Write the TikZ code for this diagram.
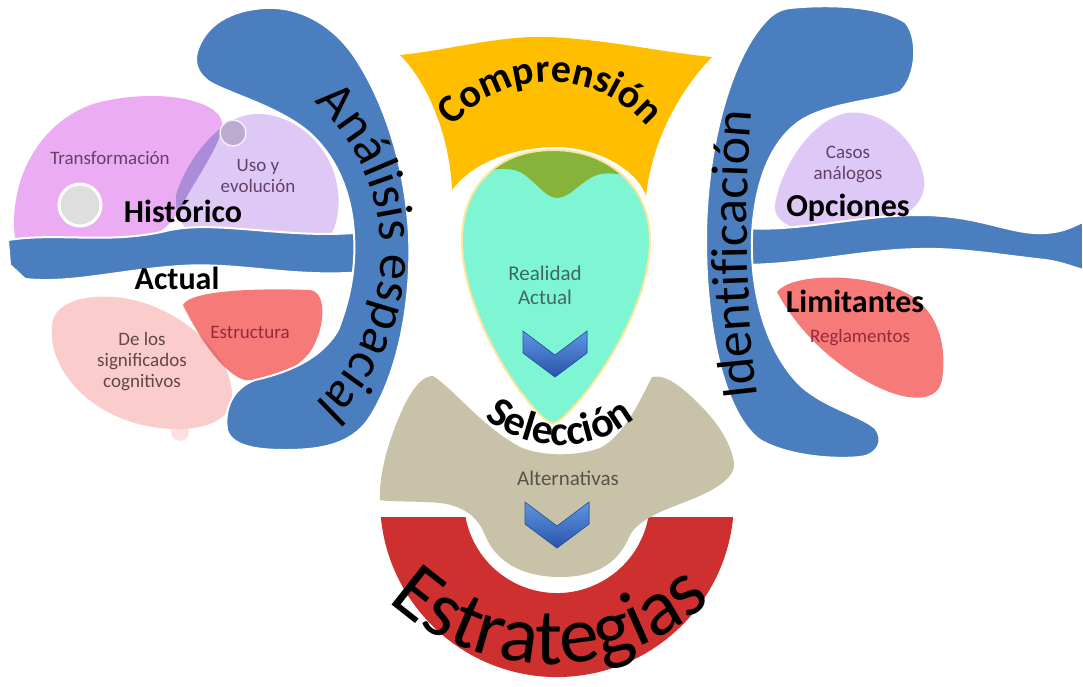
\documentclass[tikz,border=0pt]{standalone}
\usepackage{fontspec}
\setmainfont{Carlito}
\usetikzlibrary{decorations.text}

\definecolor{bandblue}{RGB}{74,126,190}
\definecolor{orchid}{RGB}{236,172,244}
\definecolor{lilac}{RGB}{222,200,246}
\definecolor{lilacdark}{RGB}{172,140,216}
\definecolor{blush}{RGB}{250,204,204}
\definecolor{salmon}{RGB}{246,122,120}
\definecolor{salmondark}{RGB}{230,112,120}
\definecolor{gold}{RGB}{255,190,0}
\definecolor{capgreen}{RGB}{134,180,58}
\definecolor{aqua}{RGB}{126,246,212}
\definecolor{sand}{RGB}{200,194,168}
\definecolor{brick}{RGB}{205,48,46}
\definecolor{chevtop}{RGB}{96,150,226}
\definecolor{chevbot}{RGB}{40,84,170}
\definecolor{txtpurple}{RGB}{100,66,104}
\definecolor{txtbrown}{RGB}{100,70,72}
\definecolor{txtred}{RGB}{150,42,58}
\definecolor{txtteal}{RGB}{62,106,96}
\definecolor{txtgray}{RGB}{86,84,74}

% blob outlines, used twice (fill and overlap)
\newcommand{\orchidpath}{(15,-238) .. controls (8,-180) and (40,-118) .. (100,-102) .. controls (160,-88) and (218,-100) .. (222,-122) .. controls (224,-140) and (200,-172) .. (185,-200) .. controls (175,-220) and (160,-238) .. (140,-238) -- cycle}
\newcommand{\lilacpath}{(176,-195) .. controls (186,-162) and (212,-128) .. (240,-117) .. controls (275,-105) and (318,-130) .. (333,-170) .. controls (342,-195) and (340,-222) .. (328,-240) -- (205,-242) .. controls (185,-235) and (174,-215) .. (176,-195) -- cycle}
\newcommand{\blushpath}{(53,-320) .. controls (60,-295) and (110,-290) .. (150,-305) .. controls (195,-322) and (232,-360) .. (232,-395) .. controls (232,-425) and (195,-432) .. (160,-428) .. controls (110,-422) and (75,-395) .. (60,-365) .. controls (52,-350) and (50,-332) .. (53,-320) -- cycle}
\newcommand{\salmonpath}{(183,-305) .. controls (190,-290) and (260,-288) .. (310,-290) .. controls (328,-292) and (325,-330) .. (310,-352) .. controls (295,-372) and (265,-382) .. (245,-380) .. controls (225,-375) and (200,-340) .. (183,-305) -- cycle}
\newcommand{\aquapath}{(553,-150) .. controls (612,-150) and (650,-190) .. (650,-240) .. controls (650,-310) and (590,-395) .. (560,-420) .. controls (556,-424) and (550,-424) .. (546,-420) .. controls (516,-395) and (462,-310) .. (462,-240) .. controls (462,-190) and (494,-150) .. (553,-150) -- cycle}

\begin{document}
\begin{tikzpicture}[x=1pt, y=1pt,
  blueband/.style={fill=bandblue, draw=white, line width=2pt},
  small/.style={font=\fontsize{19}{21}\selectfont, align=center, inner sep=0pt},
  head/.style={font=\fontsize{32}{32}\selectfont\bfseries, inner sep=0pt},
  chevron/.style={top color=chevtop, bottom color=chevbot, draw=chevbot, line width=0.6pt},
  bent/.style={decorate, decoration={text along path, text align=center, text={#1}}}
]
\useasboundingbox (0,-686) rectangle (1083,0);

% left blobs
\fill[orchid] \orchidpath;
\fill[lilac] \lilacpath;
\begin{scope}
  \clip \orchidpath;
  \fill[lilacdark] \lilacpath;
\end{scope}
\filldraw[fill=black!15!lilac, draw=white!70!lilac, line width=1.5pt] (233,-133) circle (13);
\filldraw[fill=black!13, draw=white, line width=3pt] (80,-205) circle (21);

\filldraw[fill=blush!60!white, draw=white, line width=2pt] (180,-432) circle (10);
\fill[blush] \blushpath;
\fill[salmon] \salmonpath;
\begin{scope}
  \clip \blushpath;
  \fill[salmondark] \salmonpath;
\end{scope}

% right blobs
\fill[lilac] (775,-205) .. controls (780,-170) and (810,-120) .. (847,-113) .. controls (885,-108) and (920,-145) .. (924,-180) .. controls (926,-205) and (905,-218) .. (880,-222) -- (790,-226) .. controls (780,-222) and (774,-214) .. (775,-205) -- cycle;
\fill[salmon] (777,-292) .. controls (790,-275) and (850,-272) .. (895,-288) .. controls (935,-302) and (948,-340) .. (942,-380) .. controls (938,-402) and (910,-402) .. (880,-388) .. controls (840,-370) and (800,-335) .. (777,-292) -- cycle;

% streams and bands
\filldraw[blueband] (8,-240) .. controls (60,-232) and (110,-245) .. (170,-230) .. controls (220,-220) and (290,-240) .. (365,-232) -- (365,-272) .. controls (290,-278) and (240,-262) .. (180,-266) .. controls (120,-270) and (70,-284) .. (25,-279) -- (10,-265) -- cycle;
\filldraw[blueband] (745,-228) .. controls (800,-232) and (860,-215) .. (920,-215) .. controls (980,-215) and (1010,-235) .. (1045,-233) .. controls (1065,-232) and (1075,-225) .. (1083,-222) -- (1083,-270) .. controls (1070,-266) and (1060,-262) .. (1045,-260) .. controls (1000,-255) and (960,-248) .. (920,-249) .. controls (860,-250) and (810,-264) .. (745,-265) -- cycle;

\filldraw[blueband] (197,-52) .. controls (205,-25) and (230,-10) .. (265,-8) .. controls (300,-6) and (335,-25) .. (358,-62) .. controls (385,-105) and (405,-165) .. (409,-235) .. controls (412,-310) and (395,-380) .. (368,-420) .. controls (350,-445) and (320,-450) .. (285,-450) .. controls (255,-450) and (232,-446) .. (227,-430) .. controls (224,-410) and (232,-388) .. (255,-380) .. controls (290,-372) and (322,-358) .. (338,-330) .. controls (350,-300) and (356,-268) .. (354,-235) .. controls (352,-195) and (338,-160) .. (312,-135) .. controls (285,-110) and (240,-97) .. (215,-85) .. controls (200,-78) and (193,-65) .. (197,-52) -- cycle;
\filldraw[blueband] (790,-8) .. controls (830,-4) and (880,-6) .. (905,-22) .. controls (918,-35) and (918,-75) .. (900,-92) .. controls (880,-100) and (835,-102) .. (805,-118) .. controls (775,-135) and (755,-175) .. (752,-235) .. controls (750,-290) and (765,-350) .. (800,-385) .. controls (825,-408) and (860,-415) .. (875,-428) .. controls (885,-440) and (878,-455) .. (860,-457) .. controls (830,-460) and (785,-455) .. (760,-440) .. controls (725,-415) and (706,-330) .. (706,-240) .. controls (706,-150) and (730,-60) .. (765,-22) .. controls (772,-14) and (780,-9) .. (790,-8) -- cycle;

% centre column
\fill[gold] (400,-55) .. controls (450,-50) and (500,-35) .. (550,-37) .. controls (610,-40) and (660,-52) .. (712,-57) .. controls (680,-90) and (652,-140) .. (646,-196) .. controls (640,-175) and (605,-148) .. (557,-147) .. controls (510,-147) and (470,-165) .. (452,-190) .. controls (450,-140) and (430,-85) .. (400,-55) -- cycle;

\fill[brick] (380.8,-517) arc[start angle=185.5, end angle=354.5, radius=177] -- (648.4,-517) arc[start angle=349.5, end angle=190.5, radius=93] -- cycle;

\fill[sand] (433,-376) .. controls (455,-390) and (480,-425) .. (520,-447) .. controls (540,-456) and (575,-457) .. (600,-448) .. controls (625,-435) and (640,-400) .. (652,-377) .. controls (665,-374) and (680,-385) .. (700,-405) .. controls (715,-420) and (730,-440) .. (734,-462) .. controls (736,-478) and (715,-490) .. (690,-500) .. controls (665,-510) and (640,-518) .. (630,-535) .. controls (620,-560) and (600,-577) .. (560,-577) .. controls (520,-577) and (495,-560) .. (485,-535) .. controls (478,-518) and (465,-506) .. (440,-503) .. controls (420,-501) and (390,-502) .. (380,-500) .. controls (378,-470) and (395,-420) .. (410,-395) .. controls (418,-382) and (425,-376) .. (433,-376) -- cycle;

\fill[aqua] \aquapath;
\begin{scope}
  \clip \aquapath;
  \fill[capgreen] (440,-140) -- (440,-185) .. controls (480,-170) and (505,-165) .. (520,-172) .. controls (535,-180) and (545,-198) .. (557,-198) .. controls (570,-198) and (582,-180) .. (597,-175) .. controls (612,-170) and (640,-178) .. (660,-185) -- (660,-140) -- cycle;
\end{scope}
\draw[white!60!gold, line width=2pt] \aquapath;

\filldraw[chevron] (523,-331) -- (555,-355) -- (587,-331) -- (587,-353) -- (555,-377) -- (523,-353) -- cycle;
\filldraw[chevron] (525,-502) -- (557,-526) -- (589,-502) -- (589,-524) -- (557,-548) -- (525,-524) -- cycle;

% labels
\node[small, text=txtpurple] (transf) at (110,-158) {Transformación};
\node[small, text=txtpurple] (uso) at (258,-176) {Uso y\\evolución};
\node[head] (hist) at (183,-211) {Histórico};
\node[head] (actual) at (177,-278) {Actual};
\node[small, text=txtbrown] (signif) at (142,-362) {De los\\significados\\cognitivos};
\node[small, text=txtred] (estruc) at (250,-332) {Estructura};
\node[small, font=\fontsize{21}{24}\selectfont, text=txtteal] (real) at (545,-285) {Realidad\\Actual};
\node[small, font=\fontsize{21}{24}\selectfont, text=txtgray] (alt) at (568,-478) {Alternativas};
\node[small, text=txtpurple] (casos) at (848,-164) {Casos\\análogos};
\node[head] (opc) at (848,-208) {Opciones};
\node[head] (limit) at (855,-301) {Limitantes};
\node[small, text=txtred] (regla) at (860,-338) {Reglamentos};

% curved titles
\path[bent={|\fontsize{52}{52}\selectfont|Análisis espacial}] ([shift={(176,-253)}]70:205) arc[start angle=70, end angle=-70, radius=205];
\path[bent={|\fontsize{52}{52}\selectfont|Identificación}] (760,-420) .. controls (745,-310) and (743,-190) .. (754,-88);
\path[bent={|\fontsize{40}{40}\selectfont\bfseries|Comprensión}] ([shift={(550,-210)}]160:128) arc[start angle=160, end angle=20, radius=128];
\path[bent={|\fontsize{42}{42}\selectfont\bfseries|Selección}] ([shift={(560,-325)}]200:120) arc[start angle=200, end angle=340, radius=120];
\path[bent={|\fontsize{80}{80}\selectfont|Estrategias}] ([shift={(550,-427)}]200:237) arc[start angle=200, end angle=340, radius=237];

\end{tikzpicture}
\end{document}
